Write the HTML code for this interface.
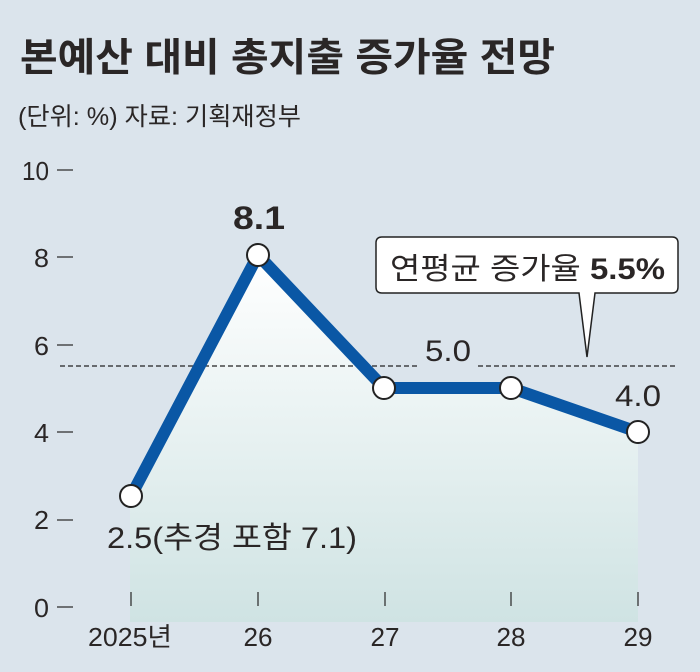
<!DOCTYPE html>
<html><head><meta charset="utf-8"><style>
body{margin:0;width:700px;height:672px;background:#dbe4ec;overflow:hidden}
svg{display:block}
text{font-family:"Liberation Sans","Noto Sans CJK KR",sans-serif;fill:#2a2626}
</style></head><body>
<svg width="700" height="672" viewBox="0 0 700 672">
<defs><linearGradient id="g" x1="0" y1="0" x2="0" y2="1">
<stop offset="0" stop-color="#ffffff"/><stop offset="1" stop-color="#cfe3e3"/></linearGradient></defs>
<rect width="700" height="672" fill="#dbe4ec"/>
<text x="20" y="71" font-size="39" font-weight="bold" fill="#231f1f" textLength="535" lengthAdjust="spacingAndGlyphs">본예산 대비 총지출 증가율 전망</text>
<text x="18" y="125" font-size="25" textLength="283" lengthAdjust="spacingAndGlyphs">(단위: %) 자료: 기획재정부</text>
<polygon points="130,622 130,497 258,255 384,388 511,388 638,432 638,622" fill="url(#g)"/>
<g font-size="26" text-anchor="end">
<text x="49" y="617" textLength="15" lengthAdjust="spacingAndGlyphs">0</text>
<text x="49" y="529" textLength="15" lengthAdjust="spacingAndGlyphs">2</text>
<text x="49" y="442" textLength="15" lengthAdjust="spacingAndGlyphs">4</text>
<text x="49" y="355" textLength="15" lengthAdjust="spacingAndGlyphs">6</text>
<text x="49" y="267" textLength="15" lengthAdjust="spacingAndGlyphs">8</text>
<text x="49" y="180" textLength="27" lengthAdjust="spacingAndGlyphs">10</text>
</g>
<g stroke="#333" stroke-width="1.3">
<line x1="57" y1="607" x2="73" y2="607"/><line x1="57" y1="520" x2="73" y2="520"/>
<line x1="57" y1="432" x2="73" y2="432"/><line x1="57" y1="345" x2="73" y2="345"/>
<line x1="57" y1="257" x2="73" y2="257"/><line x1="57" y1="170" x2="73" y2="170"/>
<line x1="131" y1="592" x2="131" y2="606"/><line x1="258" y1="592" x2="258" y2="606"/>
<line x1="385" y1="592" x2="385" y2="606"/><line x1="511" y1="592" x2="511" y2="606"/>
<line x1="638" y1="592" x2="638" y2="606"/>
</g>
<g font-size="26" text-anchor="middle">
<text x="130" y="646" textLength="84" lengthAdjust="spacingAndGlyphs">2025년</text>
<text x="258" y="646" textLength="29" lengthAdjust="spacingAndGlyphs">26</text>
<text x="385" y="646" textLength="29" lengthAdjust="spacingAndGlyphs">27</text>
<text x="511" y="646" textLength="29" lengthAdjust="spacingAndGlyphs">28</text>
<text x="638" y="646" textLength="29" lengthAdjust="spacingAndGlyphs">29</text>
</g>
<line x1="60" y1="366" x2="418" y2="366" stroke="#222" stroke-width="1.3" stroke-dasharray="5,3"/>
<line x1="478" y1="366" x2="678" y2="366" stroke="#222" stroke-width="1.3" stroke-dasharray="5,3"/>
<polyline points="131,496 258,255 384,388 511,388 638,432" fill="none" stroke="#0a57a5" stroke-width="12" stroke-linejoin="miter"/>
<g fill="#fff" stroke="#222" stroke-width="2">
<circle cx="131" cy="496" r="11"/><circle cx="258" cy="255" r="11"/><circle cx="384" cy="388" r="11"/>
<circle cx="511" cy="388" r="11"/><circle cx="638" cy="432" r="11"/>
</g>
<path d="M382,237 H672 Q678,237 678,243 V287 Q678,293 672,293 H595 L587,357 L579,293 H382 Q376,293 376,287 V243 Q376,237 382,237 Z" fill="#fff" stroke="#222" stroke-width="1.5"/>
<text x="390" y="279" font-size="30" textLength="275" lengthAdjust="spacingAndGlyphs">연평균 증가율 <tspan font-weight="bold">5.5%</tspan></text>
<text x="259" y="229" font-size="32" font-weight="bold" text-anchor="middle" textLength="52" lengthAdjust="spacingAndGlyphs">8.1</text>
<text x="448" y="361" font-size="30" text-anchor="middle" textLength="46" lengthAdjust="spacingAndGlyphs">5.0</text>
<text x="638" y="406" font-size="30" text-anchor="middle" textLength="46" lengthAdjust="spacingAndGlyphs">4.0</text>
<text x="107" y="548" font-size="30" textLength="250" lengthAdjust="spacingAndGlyphs">2.5(추경 포함 7.1)</text>
</svg>
</body></html>
